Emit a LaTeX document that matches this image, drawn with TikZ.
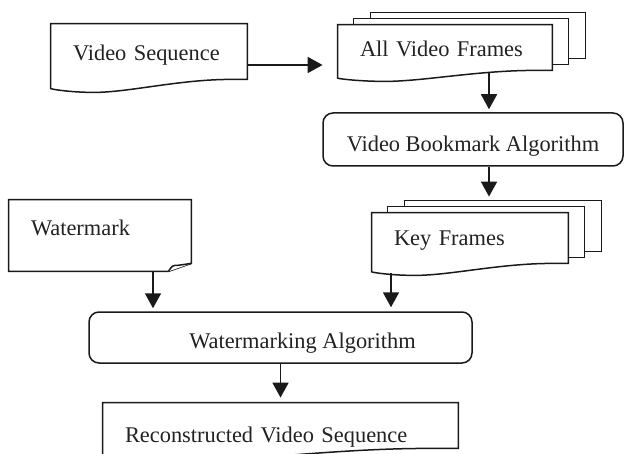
\documentclass[tikz,border=0pt]{standalone}
\usepackage{fontspec}
\setmainfont{Liberation Serif}
\usepackage{tikz}
\usetikzlibrary{positioning, calc, arrows.meta, backgrounds}

\definecolor{lineGray}{RGB}{26, 26, 26}
\definecolor{textGray}{RGB}{34, 34, 34}

% document outline with a wavy bottom edge
\newcommand{\docoutline}[2]{%
  \draw[docline] (#1.north west) -- (#1.north east) -- (#1.south east)
    -- ($(#1.south east)!0.08!(#1.south west)$)
    .. controls ($(#1.south east)!0.35!(#1.south west)$) and ($(#1.south east)!0.6!(#1.south west)+(0,#2)$) .. ($(#1.south east)!0.78!(#1.south west)+(0,#2)$)
    .. controls ($(#1.south east)!0.9!(#1.south west)+(0,#2)$) and ($(#1.south west)+(0,0.75*#2)$) .. ($(#1.south west)+(0,0.7*#2)$)
    -- cycle;}

\begin{document}
\begin{tikzpicture}[
    x=0.5pt, y=-0.5pt,
    font=\fontsize{11.2}{13.5}\selectfont, text=textGray,
    docnode/.style={draw=none, inner xsep=11pt, inner ysep=0pt, align=left},
    docline/.style={draw=lineGray, line width=0.75pt, fill=white},
    procbox/.style={draw=lineGray, line width=0.75pt, rounded corners=5pt,
                    inner ysep=0pt, fill=white, align=center},
    flow/.style={draw=lineGray, line width=0.9pt,
                 -{Triangle[length=7.5pt,width=8pt]}},
  ]
    \useasboundingbox (0,0) rectangle (625,454);

    \node[docnode, text width=76pt, text height=18.5pt, text depth=9pt] (VS) at (149,51.5) {Video Sequence};
    \node[docnode, text width=85pt, text height=16pt, text depth=6.5pt] (AVF) at (445,47.5) {All Video Frames};
    \node[procbox, minimum width=150pt, text height=19.5pt, text depth=7pt] (VBA) at (473,139.5) {Video Bookmark Algorithm};
    \node[docnode, text width=76pt, text height=16pt, text depth=9pt] (KF) at (470,238) {Key Frames};
    \node[docnode, text width=69pt, text height=17.5pt, text depth=18pt] (WM) at (100,235.5) {Watermark};
    \node[procbox, minimum width=191.5pt, text height=18pt, text depth=7.5pt] (WA) at (280.5,337.5) {\hspace*{22pt}Watermarking Algorithm};
    \node[docnode, text width=155.5pt, text height=19.5pt, text depth=3pt] (RVS) at (280.5,425.5) {Reconstructed Video Sequence};

    \begin{scope}[on background layer]
      % stacked frames
      \foreach \n in {AVF, KF} {
        \draw[docline] ($(\n.north west)+(33,-12)$) rectangle ($(\n.south east)+(33,-12)$);
        \draw[docline] ($(\n.north west)+(16,-6)$) rectangle ($(\n.south east)+(16,-6)$);
      }
      \docoutline{VS}{13}
      \docoutline{AVF}{11}
      \docoutline{KF}{12}
      \docoutline{RVS}{13}
      % note with folded corner
      \draw[docline] (WM.north west) -- (WM.north east) -- ($(WM.south east)+(0,-8)$)
        -- ($(WM.south east)+(-23,0)$) -- (WM.south west) -- cycle;
      \draw[docline] ($(WM.south east)+(-23,0)$) .. controls ($(WM.south east)+(-19,-6)$) .. ($(WM.south east)+(-14,-6)$)
        -- ($(WM.south east)+(0,-8)$);
    \end{scope}

    \draw[flow] ($(VS.east)+(0,13.5)$) -- ($(AVF.west)+(-15,17.5)$);
    \draw[flow] ($(AVF.south)+(44,3)$) -- ($(VBA.north)+(16,-3)$);
    \draw[flow] ($(VBA.south)+(16,0)$) -- ($(KF.north)+(19,-16)$);
    \draw[flow] ($(WM.south)+(53,0)$) -- ($(WA.north)+(-127.5,-3)$);
    \draw[flow] ($(KF.south)+(-79,10)$) -- ($(WA.north)+(110.5,-4)$);
    \draw[flow] (WA.south) -- ($(RVS.north)+(0,-5)$);
  \end{tikzpicture}
\end{document}
